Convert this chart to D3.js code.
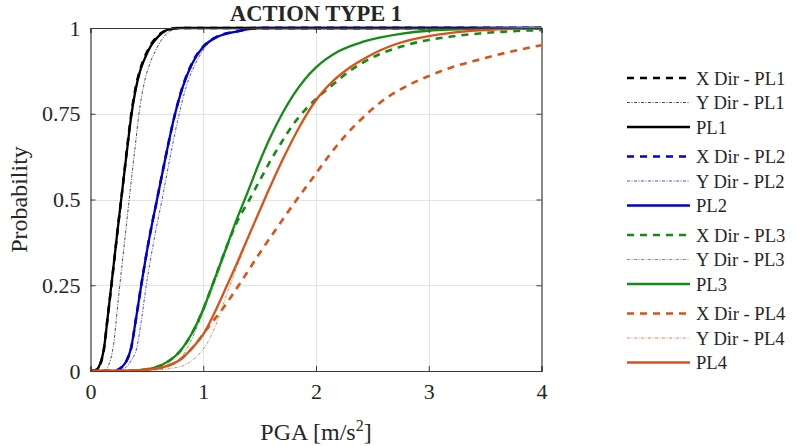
<!DOCTYPE html>
<html>
<head>
<meta charset="utf-8">
<script src="https://cdn.jsdelivr.net/npm/d3@7"></script>
<style>
  html, body { margin: 0; padding: 0; background: #fff; }
  svg { display: block; }
  text { font-family: "Liberation Serif", "Times New Roman", serif; fill: #262626; }
</style>
</head>
<body>
<svg id="chart" width="796" height="446"></svg>
<script>
// Fragility curves: probability of exceeding each performance level vs PGA
const xTicks = [0, 1, 2, 3, 4];
const yTicks = [0, 0.25, 0.5, 0.75, 1];
const yTickLabels = ["0", "0.25", "0.5", "0.75", "1"];

// PL1
const pl1XPga  = [0, 0.04, 0.07, 0.1, 0.12, 0.15, 0.19, 0.24, 0.29, 0.33, 0.36, 0.4, 0.44, 0.48, 0.53, 0.6, 0.68, 0.78, 1.0, 4];
const pl1XProb = [0, 0.002, 0.01, 0.034, 0.066, 0.15, 0.262, 0.41, 0.55, 0.665, 0.745, 0.825, 0.878, 0.915, 0.948, 0.978, 0.994, 1, 1, 1];
const pl1YPga  = [0, 0.1, 0.14, 0.17, 0.2, 0.25, 0.3, 0.35, 0.4, 0.43, 0.47, 0.52, 0.57, 0.62, 0.7, 0.8, 4];
const pl1YProb = [0, 0, 0.005, 0.025, 0.067, 0.22, 0.37, 0.52, 0.665, 0.75, 0.83, 0.89, 0.93, 0.96, 0.99, 1, 1];
const pl1Pga   = [0, 0.04, 0.07, 0.1, 0.12, 0.15, 0.19, 0.24, 0.29, 0.33, 0.36, 0.4, 0.44, 0.48, 0.53, 0.6, 0.69, 0.8, 1.0, 4];
const pl1Prob  = [0, 0.002, 0.01, 0.035, 0.067, 0.15, 0.265, 0.41, 0.55, 0.66, 0.74, 0.82, 0.875, 0.91, 0.945, 0.975, 0.995, 1, 1, 1];

// PL2
const pl2XPga  = [0, 0.2, 0.24, 0.28, 0.32, 0.36, 0.4, 0.45, 0.52, 0.59, 0.67, 0.75, 0.82, 0.9, 1.0, 1.13, 1.3, 1.5, 4];
const pl2XProb = [0, 0, 0.003, 0.012, 0.03, 0.066, 0.145, 0.25, 0.385, 0.5, 0.63, 0.75, 0.832, 0.897, 0.946, 0.976, 0.99, 1, 1];
const pl2YPga  = [0, 0.24, 0.28, 0.32, 0.36, 0.41, 0.45, 0.495, 0.565, 0.635, 0.71, 0.78, 0.85, 0.93, 1.02, 1.13, 1.3, 1.5, 4];
const pl2YProb = [0, 0, 0.003, 0.012, 0.03, 0.067, 0.145, 0.25, 0.385, 0.5, 0.63, 0.74, 0.83, 0.895, 0.945, 0.975, 0.99, 1, 1];
const pl2Pga   = [0, 0.2, 0.24, 0.28, 0.32, 0.36, 0.4, 0.45, 0.52, 0.59, 0.67, 0.75, 0.82, 0.9, 1.0, 1.13, 1.3, 1.5, 4];
const pl2Prob  = [0, 0, 0.003, 0.012, 0.03, 0.067, 0.145, 0.25, 0.385, 0.5, 0.63, 0.75, 0.83, 0.895, 0.945, 0.975, 0.99, 1, 1];

// PL3
const pl3XPga  = [0, 0.3, 0.45, 0.57, 0.69, 0.8, 0.9, 1.0, 1.075, 1.21, 1.3, 1.41, 1.5, 1.6, 1.7, 1.8, 1.9, 2.0, 2.15, 2.3, 2.42, 2.57, 2.75, 2.92, 3.2, 3.45, 3.7, 4];
const pl3XProb = [0, 0, 0.003, 0.01, 0.028, 0.06, 0.11, 0.18, 0.245, 0.365, 0.435, 0.5, 0.555, 0.615, 0.67, 0.72, 0.76, 0.793, 0.835, 0.875, 0.9, 0.925, 0.945, 0.96, 0.975, 0.984, 0.99, 0.994];
const pl3YPga  = [0, 0.4, 0.55, 0.7, 0.81, 0.88, 0.954, 1.05, 1.15, 1.25, 1.3, 1.38, 1.5, 1.6, 1.7, 1.8, 1.9, 2.0, 2.2, 2.42, 2.75, 3.0, 3.5, 4];
const pl3YProb = [0, 0, 0.003, 0.014, 0.042, 0.08, 0.135, 0.215, 0.3, 0.395, 0.443, 0.51, 0.61, 0.685, 0.75, 0.805, 0.85, 0.885, 0.932, 0.96, 0.983, 0.992, 0.998, 1];
const pl3Pga   = [0, 0.3, 0.45, 0.57, 0.69, 0.8, 0.9, 1.0, 1.075, 1.21, 1.3, 1.38, 1.5, 1.6, 1.7, 1.8, 1.9, 2.0, 2.2, 2.42, 2.75, 3.0, 3.5, 4];
const pl3Prob  = [0, 0, 0.003, 0.01, 0.028, 0.06, 0.11, 0.18, 0.245, 0.365, 0.445, 0.51, 0.61, 0.685, 0.75, 0.805, 0.85, 0.885, 0.932, 0.96, 0.983, 0.992, 0.998, 1];

// PL4
const pl4XPga  = [0, 0.1, 0.3, 0.5, 0.65, 0.79, 0.91, 1.045, 1.18, 1.355, 1.503, 1.68, 1.83, 1.976, 2.12, 2.27, 2.42, 2.57, 2.8, 3.0, 3.2, 3.45, 3.7, 4];
const pl4XProb = [0, 0, 0.001, 0.004, 0.012, 0.032, 0.07, 0.128, 0.185, 0.27, 0.345, 0.43, 0.5, 0.565, 0.63, 0.69, 0.74, 0.783, 0.83, 0.86, 0.885, 0.908, 0.929, 0.95];
const pl4YPga  = [0, 0.2, 0.5, 0.7, 0.85, 0.95, 1.05, 1.13, 1.21, 1.3, 1.385, 1.53, 1.71, 1.85, 1.99, 2.15, 2.3, 2.45, 2.57, 2.745, 3.01, 3.2, 3.45, 3.7, 4];
const pl4YProb = [0, 0, 0.002, 0.007, 0.02, 0.045, 0.09, 0.15, 0.225, 0.305, 0.375, 0.49, 0.62, 0.71, 0.785, 0.845, 0.885, 0.915, 0.935, 0.957, 0.977, 0.986, 0.993, 0.997, 1];
const pl4Pga   = [0, 0.1, 0.3, 0.5, 0.65, 0.79, 0.91, 1.015, 1.1, 1.21, 1.3, 1.385, 1.53, 1.71, 1.85, 1.99, 2.15, 2.3, 2.45, 2.57, 2.745, 3.01, 3.2, 3.45, 3.7, 4];
const pl4Prob  = [0, 0, 0.001, 0.004, 0.012, 0.032, 0.07, 0.115, 0.17, 0.249, 0.315, 0.38, 0.49, 0.62, 0.71, 0.785, 0.845, 0.885, 0.915, 0.935, 0.957, 0.977, 0.986, 0.993, 0.997, 1];

const seriesNames = ["X Dir - PL1", "Y Dir - PL1", "PL1",
                     "X Dir - PL2", "Y Dir - PL2", "PL2",
                     "X Dir - PL3", "Y Dir - PL3", "PL3",
                     "X Dir - PL4", "Y Dir - PL4", "PL4"];

const colors = { PL1: "#000000", PL2: "#0000cc", PL3: "#148c14", PL4: "#d95319" };
const styles = {
  x:     { width: 2.6, dash: "7,6", opacity: 1 },
  y:     { width: 1.0, dash: "3,1.5,1,1.5", opacity: 0.7 },
  solid: { width: 2.3, dash: null, opacity: 1 }
};

const series = [
  { name: seriesNames[0],  pga: pl1XPga, prob: pl1XProb, color: colors.PL1, style: styles.x },
  { name: seriesNames[1],  pga: pl1YPga, prob: pl1YProb, color: colors.PL1, style: styles.y },
  { name: seriesNames[2],  pga: pl1Pga,  prob: pl1Prob,  color: colors.PL1, style: styles.solid },
  { name: seriesNames[3],  pga: pl2XPga, prob: pl2XProb, color: colors.PL2, style: styles.x },
  { name: seriesNames[4],  pga: pl2YPga, prob: pl2YProb, color: colors.PL2, style: styles.y },
  { name: seriesNames[5],  pga: pl2Pga,  prob: pl2Prob,  color: colors.PL2, style: styles.solid },
  { name: seriesNames[6],  pga: pl3XPga, prob: pl3XProb, color: colors.PL3, style: styles.x },
  { name: seriesNames[7],  pga: pl3YPga, prob: pl3YProb, color: colors.PL3, style: styles.y },
  { name: seriesNames[8],  pga: pl3Pga,  prob: pl3Prob,  color: colors.PL3, style: styles.solid },
  { name: seriesNames[9],  pga: pl4XPga, prob: pl4XProb, color: colors.PL4, style: styles.x },
  { name: seriesNames[10], pga: pl4YPga, prob: pl4YProb, color: colors.PL4, style: styles.y },
  { name: seriesNames[11], pga: pl4Pga,  prob: pl4Prob,  color: colors.PL4, style: styles.solid }
];

const svg = d3.select("#chart");
const plot = { left: 90.5, right: 541.5, top: 28, bottom: 371 };

const x = d3.scaleLinear().domain([0, 4]).range([plot.left, plot.right]);
const y = d3.scaleLinear().domain([0, 1]).range([plot.bottom, plot.top]);

// grid
const grid = svg.append("g").attr("stroke", "#e3e3e3").attr("stroke-width", 1);
grid.selectAll("line.gx").data(xTicks.slice(1, -1)).join("line")
  .attr("x1", d => Math.round(x(d)) + 0.5).attr("x2", d => Math.round(x(d)) + 0.5)
  .attr("y1", plot.top).attr("y2", plot.bottom);
grid.selectAll("line.gy").data(yTicks.slice(1, -1)).join("line")
  .attr("y1", d => Math.round(y(d)) + 0.5).attr("y2", d => Math.round(y(d)) + 0.5)
  .attr("x1", plot.left).attr("x2", plot.right);

// curves
svg.append("clipPath").attr("id", "plotclip").append("rect")
  .attr("x", plot.left).attr("y", plot.top - 2)
  .attr("width", plot.right - plot.left).attr("height", plot.bottom - plot.top + 2);

const line = d3.line().x(d => x(d[0])).y(d => y(d[1])).curve(d3.curveMonotoneX);
const curves = svg.append("g").attr("clip-path", "url(#plotclip)");
series.forEach(s => {
  curves.append("path")
    .attr("d", line(s.pga.map((v, i) => [v, s.prob[i]])))
    .attr("fill", "none")
    .attr("stroke", s.color)
    .attr("stroke-opacity", s.style.opacity)
    .attr("stroke-width", s.style.width)
    .attr("stroke-dasharray", s.style.dash)
    .attr("stroke-linejoin", "round");
});

// axes (ticks inward, box on all sides)
const tickLen = 5;
const axisColor = "#3a3a3a";

const xAxis = d3.axisBottom(x).tickValues(xTicks).tickSize(-tickLen).tickPadding(12).tickFormat(d3.format("d"));
const gx = svg.append("g").attr("transform", `translate(0,${plot.bottom})`).call(xAxis);
const yAxis = d3.axisLeft(y).tickValues(yTicks).tickSize(-tickLen).tickPadding(10)
  .tickFormat((d, i) => yTickLabels[i]);
const gy = svg.append("g").attr("transform", `translate(${plot.left},0)`).call(yAxis);
const gxTop = svg.append("g").attr("transform", `translate(0,${plot.top})`)
  .call(d3.axisTop(x).tickValues(xTicks).tickSize(-tickLen).tickFormat(""));
const gyRight = svg.append("g").attr("transform", `translate(${plot.right},0)`)
  .call(d3.axisRight(y).tickValues(yTicks).tickSize(-tickLen).tickFormat(""));

[gx, gy, gxTop, gyRight].forEach(g => {
  g.attr("font-family", null);
  g.select(".domain").attr("stroke", axisColor).attr("stroke-width", 1.2);
  g.selectAll(".tick line").attr("stroke", axisColor);
  g.selectAll("text").attr("font-size", "22px").attr("fill", "#262626");
});

// titles
svg.append("text")
  .attr("x", (plot.left + plot.right) / 2).attr("y", 21)
  .attr("text-anchor", "middle").attr("font-size", "22.5px").attr("font-weight", "bold")
  .text("ACTION TYPE 1");

const xl = svg.append("text")
  .attr("x", (plot.left + plot.right) / 2).attr("y", 440)
  .attr("text-anchor", "middle").attr("font-size", "24px");
xl.append("tspan").text("PGA [m/s");
xl.append("tspan").attr("dy", -9).attr("font-size", "16px").text("2");
xl.append("tspan").attr("dy", 9).text("]");

svg.append("text")
  .attr("transform", `translate(27,${(plot.top + plot.bottom) / 2}) rotate(-90)`)
  .attr("text-anchor", "middle").attr("font-size", "24px")
  .text("Probability");

// legend
const legend = svg.append("g");
series.forEach((s, i) => {
  const ly = 78 + i * 24.5 + Math.floor(i / 3) * 5;
  legend.append("line")
    .attr("x1", 627).attr("x2", 690).attr("y1", ly).attr("y2", ly)
    .attr("stroke", s.color)
    .attr("stroke-opacity", s.style.opacity)
    .attr("stroke-width", s.style.width)
    .attr("stroke-dasharray", s.style.dash);
  legend.append("text")
    .attr("x", 696).attr("y", ly + 6.5)
    .attr("font-size", "18.6px")
    .text(s.name);
});
</script>
</body>
</html>
